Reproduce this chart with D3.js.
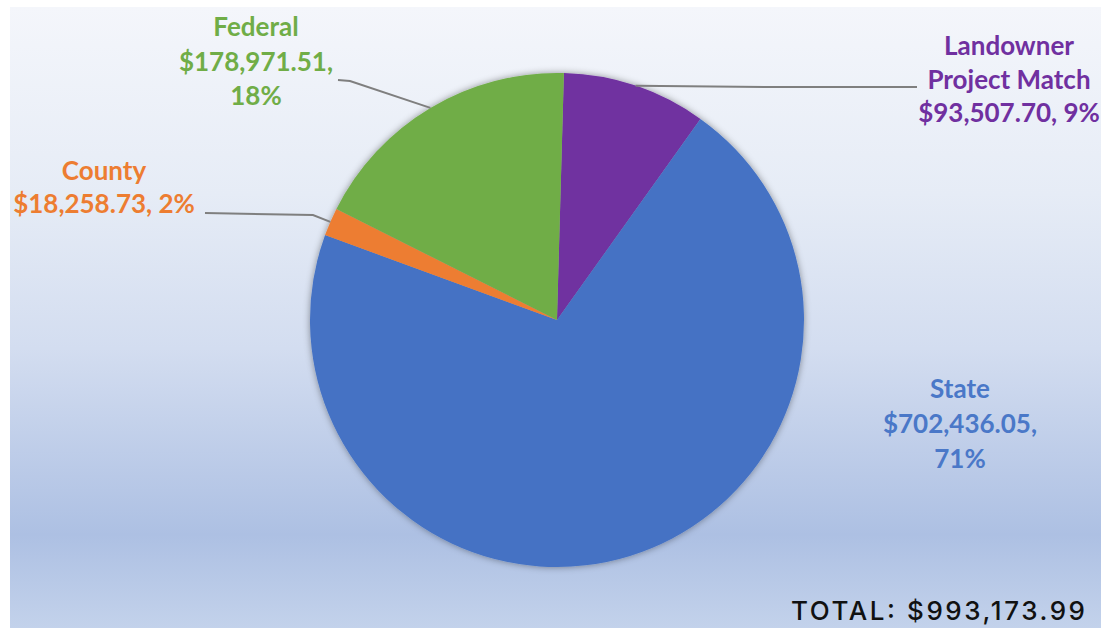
<!DOCTYPE html>
<html>
<head>
<meta charset="utf-8">
<script src="https://cdn.jsdelivr.net/npm/d3@7"></script>
<style>
  html, body { margin: 0; padding: 0; background: #ffffff; }
  svg { display: block; }
</style>
</head>
<body>
<svg id="chart" width="1109" height="628"></svg>
<script>
// ---- data ----
const categories = ["Landowner Project Match", "State", "County", "Federal"];
const amounts = [93507.70, 702436.05, 18258.73, 178971.51];
const percentLabels = ["9%", "71%", "2%", "18%"];
const labelLines = [
  ["Landowner", "Project Match", "$93,507.70, 9%"],
  ["State", "$702,436.05,", "71%"],
  ["County", "$18,258.73, 2%"],
  ["Federal", "$178,971.51,", "18%"]
];
const totalLabel = "TOTAL: $993,173.99";

// ---- style / layout ----
const colors = ["#7030a0", "#4472c4", "#ed7d31", "#70ad47"];
const textColors = ["#7030a0", "#4a78c8", "#ed7d31", "#70ad47"];
const W = 1109, H = 628;
const cx = 557, cy = 320, R = 247;
const rot = 0.028;
// label anchor (center x, first baseline y, line height)
const labelPos = [
  {x: 1009, y: 55, lh: 33.5},
  {x: 960, y: 398, lh: 35},
  {x: 104, y: 180, lh: 33},
  {x: 256, y: 36, lh: 34.5}
];
// leader line intermediate points (label side), arc point computed from pie
const leaderPts = [
  [[765, 87], [917, 87]],
  null,
  [[313, 215], [205, 213]],
  [[350, 81], [338, 80]]
];

const svg = d3.select("#chart");
const defs = svg.append("defs");
const grad = defs.append("linearGradient").attr("id", "bg")
  .attr("x1", 0).attr("y1", 0).attr("x2", 0).attr("y2", 1);
[[0, "#f4f6fb"], [0.3, "#e6ecf6"], [0.55, "#d3ddf0"], [0.85, "#adc0e3"], [1, "#c3d2eb"]]
  .forEach(([o, c]) => grad.append("stop").attr("offset", o).attr("stop-color", c));

const flt = defs.append("filter").attr("id", "shadow")
  .attr("x", "-10%").attr("y", "-10%").attr("width", "120%").attr("height", "120%");
flt.append("feDropShadow").attr("dx", 0).attr("dy", 0).attr("stdDeviation", 3.5)
  .attr("flood-color", "#000").attr("flood-opacity", 0.4);

svg.append("rect").attr("x", 10).attr("y", 7).attr("width", 1091).attr("height", H - 7)
  .attr("fill", "url(#bg)");

const pie = d3.pie().sort(null).startAngle(rot).endAngle(rot + 2 * Math.PI);
const arcs = pie(amounts);
const arc = d3.arc().innerRadius(0).outerRadius(R);

const g = svg.append("g").attr("transform", `translate(${cx},${cy})`);
g.append("g").attr("filter", "url(#shadow)")
  .selectAll("path").data(arcs).join("path")
  .attr("d", arc)
  .attr("fill", (d, i) => colors[i]);

// leader lines
arcs.forEach((d, i) => {
  if (!leaderPts[i]) return;
  const mid = (d.startAngle + d.endAngle) / 2;
  const p0 = [cx + R * Math.sin(mid), cy - R * Math.cos(mid)];
  const pts = [p0].concat(leaderPts[i]);
  svg.append("path")
    .attr("d", d3.line()(pts))
    .attr("fill", "none")
    .attr("stroke", "#7f7f7f")
    .attr("stroke-width", 2);
});

// labels
labelLines.forEach((lines, i) => {
  const t = svg.append("text")
    .attr("text-anchor", "middle")
    .attr("font-family", "Lato, 'Open Sans', sans-serif")
    .attr("font-weight", 700)
    .attr("font-size", 26)
    .attr("fill", textColors[i]);
  lines.forEach((s, j) => {
    t.append("tspan").attr("x", labelPos[i].x).attr("y", labelPos[i].y + j * labelPos[i].lh).text(s);
  });
});

// total
svg.append("text")
  .attr("x", 791).attr("y", 620)
  .attr("font-family", "Inter, 'Open Sans', sans-serif")
  .attr("font-weight", 500)
  .attr("font-size", 26)
  .attr("textLength", 294)
  .attr("lengthAdjust", "spacing")
  .attr("fill", "#111")
  .text(totalLabel);
</script>
</body>
</html>
